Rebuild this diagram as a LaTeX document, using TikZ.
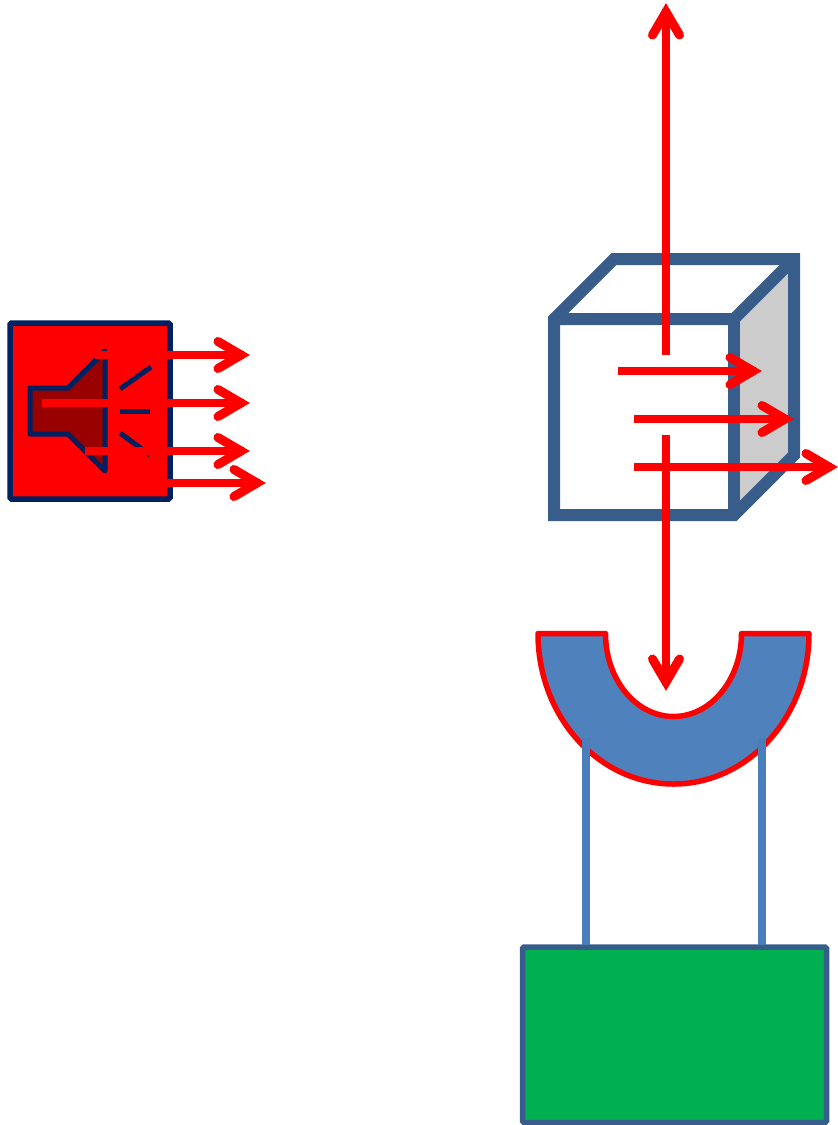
\documentclass[tikz,border=0pt]{standalone}
\definecolor{cubeblue}{HTML}{385D8A}
\definecolor{fillblue}{HTML}{4F81BD}
\definecolor{legblue}{HTML}{4A7EBB}
\definecolor{navy}{HTML}{002060}
\definecolor{darkred}{HTML}{990000}
\definecolor{sidegrey}{HTML}{CCCCCC}
\definecolor{boxgreen}{HTML}{00B050}
\tikzset{
  shaft/.style={draw=red,line width=8.5pt,line cap=butt},
  barb/.style={draw=red,line width=9pt,line cap=round,line join=miter,miter limit=10},
  cubeline/.style={draw=cubeblue,line width=12pt,line join=miter,miter limit=10},
  speakerline/.style={draw=navy,line width=5pt},
}
% tip positions are the outer point of the arrowhead
\newcommand{\rarrow}[3]{% x start, x tip, y
  \draw[shaft] (#1,#3) -- (#2-6,#3);
  \draw[barb] (#2-32,#3-13.5) -- (#2-9,#3) -- (#2-32,#3+13.5);
}
\newcommand{\uarrow}[3]{% x, y start, y tip
  \draw[shaft] (#1,#2) -- (#1,#3+6);
  \draw[barb] (#1-13.5,#3+32) -- (#1,#3+9) -- (#1+13.5,#3+32);
}
\newcommand{\darrow}[3]{% x, y start, y tip
  \draw[shaft] (#1,#2) -- (#1,#3-6);
  \draw[barb] (#1-13.5,#3-32) -- (#1,#3-9) -- (#1+13.5,#3-32);
}
\begin{document}
\begin{tikzpicture}[x=1pt,y=-1pt]
\useasboundingbox (0,0) rectangle (838,1125);
% speaker box
\draw[navy,fill=red,line width=5.5pt,rounded corners=1.5pt] (10,323) rectangle (170,499);
\draw[speakerline,fill=darkred,line join=round] (30,388) -- (68,388) -- (105,351) -- (105,471) -- (68,434) -- (30,434) -- cycle;
\draw[speakerline] (120,389) -- (151,367);
\draw[speakerline] (120,411) -- (150,411);
\draw[speakerline] (120,433) -- (150,455);
\rarrow{95}{250}{355}
\rarrow{42}{250}{403}
\rarrow{85}{250}{451}
\rarrow{120}{266}{483}
% cube
\fill[sidegrey] (734,319) -- (794,259) -- (794,455) -- (734,515) -- cycle;
\draw[cubeline] (554,319) -- (614,259) -- (794,259) -- (794,455) -- (734,515) -- (554,515) -- cycle;
\draw[cubeline] (554,319) -- (734,319) -- (794,259);
\draw[cubeline] (734,319) -- (734,515);
% receiver
\draw[red,fill=fillblue,line width=5.5pt,line join=round]
  (538,633.5) arc[start angle=180,end angle=360,x radius=135.5,y radius=-150.5]
  -- (741.5,633.5) arc[start angle=360,end angle=180,x radius=68,y radius=-83] -- cycle;
% green box and legs
\draw[cubeblue,fill=boxgreen,line width=5.5pt,rounded corners=1.5pt] (522.5,947) rectangle (826.5,1122.5);
\draw[legblue,line width=8pt] (586,738) -- (586,945);
\draw[legblue,line width=8pt] (762,738) -- (762,945);
% red arrows over the cube
\uarrow{666}{355}{3}
\darrow{666}{435}{691}
\rarrow{618}{762}{371}
\rarrow{634}{794}{419}
\rarrow{634}{838}{467}
\end{tikzpicture}
\end{document}
